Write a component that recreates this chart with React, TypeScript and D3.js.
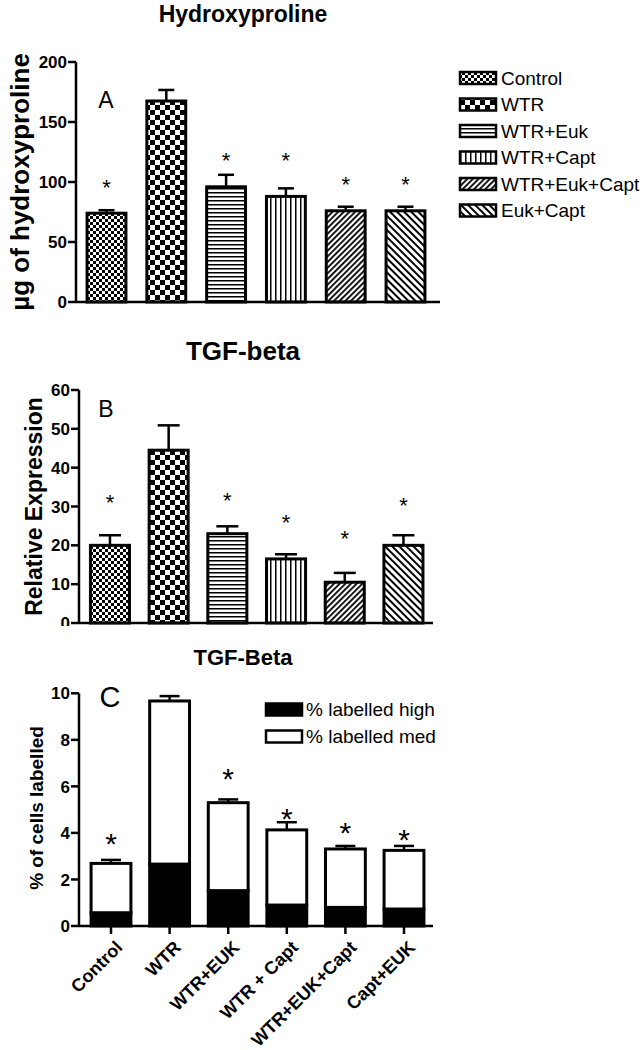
import React from 'react';
import * as d3 from 'd3';

// panel A + B groups (legend)
const groups = ['Control', 'WTR', 'WTR+Euk', 'WTR+Capt', 'WTR+Euk+Capt', 'Euk+Capt'];
const patternIds = ['pCtrl', 'pWtr', 'pHoriz', 'pVert', 'pDiagUp', 'pDiagDown'];

// A: hydroxyproline
const hydroxyMean = [74, 167.5, 96, 88, 76, 76];
const hydroxySem = [2.5, 9.2, 10, 6.7, 3.4, 3.4];
const hydroxyStar = [100, null, 122, 122, 102, 102];
const hydroxyTicks = [0, 50, 100, 150, 200];

// B: TGF-beta relative expression
const tgfMean = [20.0, 44.5, 23.0, 16.5, 10.5, 20.0];
const tgfSem = [2.6, 6.4, 1.9, 1.2, 2.4, 2.6];
const tgfStar = [32.4, null, 32.9, 27.2, 23.1, 31.6];
const tgfTicks = [0, 10, 20, 30, 40, 50, 60];

// C: % of cells labelled (stacked)
const cellGroups = ['Control', 'WTR', 'WTR+EUK', 'WTR + Capt', 'WTR+EUK+Capt', 'Capt+EUK'];
const labelledHigh = [0.57, 2.66, 1.52, 0.9, 0.8, 0.73];
const labelledMed = [2.12, 7.01, 3.78, 3.23, 2.51, 2.52];
const labelledSem = [0.15, 0.21, 0.14, 0.33, 0.13, 0.19];
const cellStar = [3.84, null, 6.63, 4.91, 4.3, 4.01];
const cellTicks = [0, 2, 4, 6, 8, 10];

const FONT = 'Arial, "Liberation Sans", Helvetica, sans-serif';
const SW = 2.5;

const Patterns = () => (
  <defs>
    <pattern id="pCtrl" width={6} height={6} patternUnits="userSpaceOnUse">
      <rect width={6} height={6} fill="#fff" />
      <rect width={3} height={3} fill="#000" />
      <rect x={3} y={3} width={3} height={3} fill="#000" />
    </pattern>
    <pattern id="pWtr" width={10} height={10} patternUnits="userSpaceOnUse">
      <rect width={10} height={10} fill="#fff" />
      <rect width={5} height={5} fill="#000" />
      <rect x={5} y={5} width={5} height={5} fill="#000" />
    </pattern>
    <pattern id="pHoriz" width={4} height={4} patternUnits="userSpaceOnUse">
      <rect width={4} height={4} fill="#fff" />
      <rect y={0} width={4} height={1.5} fill="#000" />
    </pattern>
    <pattern id="pVert" width={5} height={5} patternUnits="userSpaceOnUse">
      <rect width={5} height={5} fill="#fff" />
      <rect x={0} width={1.5} height={5} fill="#000" />
    </pattern>
    <pattern id="pDiagUp" width={4} height={4} patternUnits="userSpaceOnUse" patternTransform="rotate(45)">
      <rect width={4} height={4} fill="#fff" />
      <rect width={1.8} height={4} fill="#000" />
    </pattern>
    <pattern id="pDiagDown" width={5} height={5} patternUnits="userSpaceOnUse" patternTransform="rotate(-45)">
      <rect width={5} height={5} fill="#fff" />
      <rect width={2} height={5} fill="#000" />
    </pattern>
    <clipPath id="clipB">
      <rect x={0} y={320} width={644} height={306} />
    </clipPath>
  </defs>
);

type YAxisProps = {
  y: d3.ScaleLinear<number, number>;
  ticks: number[];
  x: number;
  fontSize: number;
};

const YAxis = ({ y, ticks, x, fontSize }: YAxisProps) => (
  <g>
    <line x1={x} x2={x} y1={y(ticks[0])} y2={y(ticks[ticks.length - 1])} stroke="#000" strokeWidth={SW} />
    {ticks.map((t) => (
      <g key={t}>
        <line x1={x - 8} x2={x} y1={y(t)} y2={y(t)} stroke="#000" strokeWidth={SW} />
        <text
          x={x - 9}
          y={y(t)}
          dy="0.36em"
          textAnchor="end"
          fontFamily={FONT}
          fontWeight="bold"
          fontSize={fontSize}
        >
          {t}
        </text>
      </g>
    ))}
  </g>
);

const Star = ({ x, y, size }: { x: number; y: number; size: number }) => (
  <text x={x} y={y + size * 0.58} textAnchor="middle" fontFamily={FONT} fontSize={size}>
    *
  </text>
);

type PatternPanelProps = {
  title: string;
  titleY: number;
  titleSize: number;
  letter: string;
  letterY: number;
  yLabel: string;
  yLabelX: number;
  yLabelSize: number;
  means: number[];
  sems: number[];
  stars: (number | null)[];
  ticks: number[];
  yRange: [number, number];
  axisX: number;
  bandStart: number;
  step: number;
  padInner: number;
  axisEnd: number;
  capW: number;
};

const PatternPanel = (p: PatternPanelProps) => {
  const y = d3.scaleLinear().domain([p.ticks[0], p.ticks[p.ticks.length - 1]]).range(p.yRange);
  const x = d3
    .scaleBand<string>()
    .domain(groups)
    .range([p.bandStart, p.bandStart + p.step * groups.length])
    .paddingInner(p.padInner)
    .paddingOuter(p.padInner / 2);
  const bw = x.bandwidth();
  const yMid = (p.yRange[0] + p.yRange[1]) / 2;
  return (
    <g>
      <text x={243} y={p.titleY} textAnchor="middle" fontFamily={FONT} fontWeight="bold" fontSize={p.titleSize}>
        {p.title}
      </text>
      <text
        transform={`translate(${p.yLabelX},${yMid}) rotate(-90)`}
        textAnchor="middle"
        fontFamily={FONT}
        fontWeight="bold"
        fontSize={p.yLabelSize}
      >
        {p.yLabel}
      </text>
      <text x={106} y={p.letterY} dy="0.36em" textAnchor="middle" fontFamily={FONT} fontSize={23}>
        {p.letter}
      </text>
      {groups.map((g, i) => {
        const cx = (x(g) as number) + bw / 2;
        const top = y(p.means[i]);
        const errY = y(p.means[i] + p.sems[i]);
        const star = p.stars[i];
        return (
          <g key={g}>
            <line x1={cx} x2={cx} y1={top} y2={errY} stroke="#000" strokeWidth={SW} />
            <line x1={cx - p.capW / 2} x2={cx + p.capW / 2} y1={errY} y2={errY} stroke="#000" strokeWidth={SW} />
            <rect
              x={x(g)}
              y={top}
              width={bw}
              height={y(0) - top}
              fill={`url(#${patternIds[i]})`}
              stroke="#000"
              strokeWidth={SW + 0.5}
            />
            {star !== null && <Star x={cx} y={y(star)} size={22} />}
          </g>
        );
      })}
      <line x1={p.axisX} x2={p.axisEnd} y1={y(0)} y2={y(0)} stroke="#000" strokeWidth={SW} />
      <YAxis y={y} ticks={p.ticks} x={p.axisX} fontSize={17} />
    </g>
  );
};

const LegendA = () => {
  const ly = d3.scalePoint<string>().domain(groups).range([78, 210.5]);
  return (
    <g>
      {groups.map((g, i) => (
        <g key={g}>
          <rect
            x={460}
            y={(ly(g) as number) - 6}
            width={36}
            height={12}
            fill={`url(#${patternIds[i]})`}
            stroke="#000"
            strokeWidth={SW}
          />
          <text x={501} y={ly(g)} dy="0.36em" fontFamily={FONT} fontSize={19}>
            {g}
          </text>
        </g>
      ))}
    </g>
  );
};

const PanelC = () => {
  const y = d3.scaleLinear().domain([0, 10]).range([926, 693.3]);
  const x = d3
    .scaleBand<string>()
    .domain(cellGroups)
    .range([81.7, 81.7 + 58.6 * 6])
    .paddingInner(0.32)
    .paddingOuter(0.16);
  const bw = x.bandwidth();
  const stackData = cellGroups.map((g, i) => ({ group: g, high: labelledHigh[i], med: labelledMed[i] }));
  const series = d3.stack<any>().keys(['high', 'med'])(stackData);
  const fills = ['#000', '#fff'];
  return (
    <g>
      <text x={243} y={665} textAnchor="middle" fontFamily={FONT} fontWeight="bold" fontSize={22}>
        TGF-Beta
      </text>
      <text
        transform={`translate(43,808) rotate(-90)`}
        textAnchor="middle"
        fontFamily={FONT}
        fontWeight="bold"
        fontSize={19}
      >
        % of cells labelled
      </text>
      <text x={110} y={697} dy="0.36em" textAnchor="middle" fontFamily={FONT} fontSize={29}>
        C
      </text>
      {cellGroups.map((g, i) => {
        const cx = (x(g) as number) + bw / 2;
        const total = labelledHigh[i] + labelledMed[i];
        const errY = y(total + labelledSem[i]);
        return (
          <g key={g}>
            <line x1={cx} x2={cx} y1={y(total)} y2={errY} stroke="#000" strokeWidth={SW} />
            <line x1={cx - 10} x2={cx + 10} y1={errY} y2={errY} stroke="#000" strokeWidth={SW} />
          </g>
        );
      })}
      {series.map((s, si) =>
        s.map((d, i) => (
          <rect
            key={`${si}-${i}`}
            x={x(cellGroups[i])}
            y={y(d[1])}
            width={bw}
            height={y(d[0]) - y(d[1])}
            fill={fills[si]}
            stroke="#000"
            strokeWidth={SW + 0.5}
          />
        ))
      )}
      {cellGroups.map((g, i) => {
        const cx = (x(g) as number) + bw / 2;
        const star = cellStar[i];
        return (
          <g key={g}>
            <line x1={cx} x2={cx} y1={926} y2={934} stroke="#000" strokeWidth={SW} />
            <text
              transform={`translate(${cx + 8},${944}) rotate(-45)`}
              textAnchor="end"
              dy="0.35em"
              fontFamily={FONT}
              fontWeight="bold"
              fontSize={18}
            >
              {g}
            </text>
            {star !== null && <Star x={cx} y={y(star)} size={30} />}
          </g>
        );
      })}
      <line x1={79} x2={433} y1={y(0)} y2={y(0)} stroke="#000" strokeWidth={SW} />
      <YAxis y={y} ticks={cellTicks} x={79} fontSize={17} />
      {/* legend */}
      <rect x={266} y={703.5} width={36} height={12} fill="#000" stroke="#000" strokeWidth={SW} />
      <text x={306} y={709.5} dy="0.36em" fontFamily={FONT} fontSize={19}>
        % labelled high
      </text>
      <rect x={266} y={730.5} width={36} height={12} fill="#fff" stroke="#000" strokeWidth={SW} />
      <text x={306} y={736.5} dy="0.36em" fontFamily={FONT} fontSize={19}>
        % labelled med
      </text>
    </g>
  );
};

export default function App() {
  return (
    <svg
      width={644}
      height={1050}
      viewBox="0 0 644 1050"
      style={{ position: 'absolute', left: 0, top: 0, background: '#fff' }}
    >
      <Patterns />
      <rect width={644} height={1050} fill="#fff" />
      <PatternPanel
        title="Hydroxyproline"
        titleY={22}
        titleSize={23}
        letter="A"
        letterY={100}
        yLabel="µg of hydroxyproline"
        yLabelX={29}
        yLabelSize={26}
        means={hydroxyMean}
        sems={hydroxySem}
        stars={hydroxyStar}
        ticks={hydroxyTicks}
        yRange={[302, 62]}
        axisX={76}
        bandStart={76.6}
        step={59.8}
        padInner={0.35}
        axisEnd={440}
        capW={16}
      />
      <LegendA />
      <g clipPath="url(#clipB)">
        <PatternPanel
          title="TGF-beta"
          titleY={360}
          titleSize={26}
          letter="B"
          letterY={409}
          yLabel="Relative Expression"
          yLabelX={42}
          yLabelSize={23}
          means={tgfMean}
          sems={tgfSem}
          stars={tgfStar}
          ticks={tgfTicks}
          yRange={[623, 390]}
          axisX={79}
          bandStart={80.6}
          step={58.7}
          padInner={0.335}
          axisEnd={433}
          capW={22}
        />
      </g>
      <PanelC />
    </svg>
  );
}
